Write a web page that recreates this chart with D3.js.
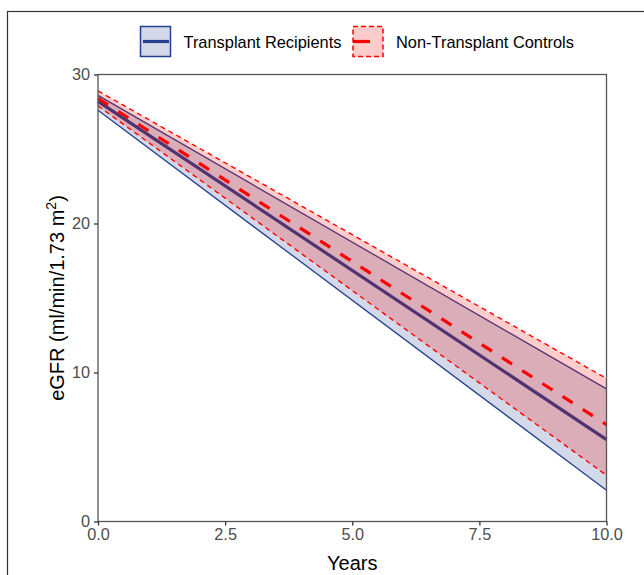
<!DOCTYPE html>
<meta charset="utf-8">

<script src="https://d3js.org/d3.v7.min.js"></script>

<style type="text/css">
  body { margin: 0; background: #fff; }
  text { font-family: "Liberation Sans", Arial, sans-serif; }
</style>

<body>
</body>

<script>

// straight-line fits, given by their values at the two ends
var years = [0, 10];

var trMean  = [28.2, 5.5],
    trLower = [27.6, 2.1],
    trUpper = [28.6, 8.9];

var ncMean  = [28.4, 6.5],
    ncLower = [27.9, 3.1],
    ncUpper = [28.9, 9.6];

var xTicks = [0, 2.5, 5, 7.5, 10];
var yTicks = [0, 10, 20, 30];

var groups = ["Transplant Recipients", "Non-Transplant Controls"];

var blue = "#24408e", red = "#ff0000";

var width = 644, height = 575;
var margin = {top: 74.5, right: 37.5, bottom: 53.5, left: 98};

var svg = d3.select("body").append("svg")
    .attr("width", width)
    .attr("height", height);

// outer frame of the figure
svg.append("rect")
    .attr("x", 7.5).attr("y", 11.5)
    .attr("width", width + 10).attr("height", height + 10)
    .attr("fill", "none")
    .attr("stroke", "#333")
    .attr("stroke-width", 1.2);

var x = d3.scaleLinear()
    .domain([0, 10])
    .range([margin.left, width - margin.right]);

var y = d3.scaleLinear()
    .domain([0, 30])
    .range([height - margin.bottom, margin.top]);

function rows(lo, hi, mid) {
  return years.map(function(d, i) { return {x: d, lo: lo[i], hi: hi[i], mid: mid[i]}; });
}

var tr = rows(trLower, trUpper, trMean),
    nc = rows(ncLower, ncUpper, ncMean);

var area = d3.area()
    .x(function(d) { return x(d.x); })
    .y0(function(d) { return y(d.lo); })
    .y1(function(d) { return y(d.hi); });

function line(key) {
  return d3.line()
    .x(function(d) { return x(d.x); })
    .y(function(d) { return y(d[key]); });
}

var plot = svg.append("g");

// transplant ribbon and lines
plot.append("path").datum(tr)
    .attr("d", area)
    .attr("fill", blue).attr("fill-opacity", 0.2);

["lo", "hi"].forEach(function(k) {
  plot.append("path").datum(tr)
      .attr("d", line(k))
      .attr("fill", "none").attr("stroke", blue).attr("stroke-width", 1.3);
});

plot.append("path").datum(tr)
    .attr("d", line("mid"))
    .attr("fill", "none").attr("stroke", blue).attr("stroke-width", 3.2);

// control ribbon and lines
plot.append("path").datum(nc)
    .attr("d", area)
    .attr("fill", red).attr("fill-opacity", 0.2);

["lo", "hi"].forEach(function(k) {
  plot.append("path").datum(nc)
      .attr("d", line(k))
      .attr("fill", "none").attr("stroke", red).attr("stroke-width", 1.4)
      .attr("stroke-dasharray", "5 4");
});

plot.append("path").datum(nc)
    .attr("d", line("mid"))
    .attr("fill", "none").attr("stroke", red).attr("stroke-width", 3.2)
    .attr("stroke-dasharray", "12 12");

// panel border
svg.append("rect")
    .attr("x", x(0)).attr("y", y(30))
    .attr("width", x(10) - x(0)).attr("height", y(0) - y(30))
    .attr("fill", "none")
    .attr("stroke", "#555")
    .attr("stroke-width", 1.3);

// axes
var xAxis = svg.append("g")
    .attr("transform", "translate(0," + y(0) + ")")
    .call(d3.axisBottom(x).tickValues(xTicks).tickFormat(d3.format(".1f")).tickSize(4).tickPadding(3));

var yAxis = svg.append("g")
    .attr("transform", "translate(" + x(0) + ",0)")
    .call(d3.axisLeft(y).tickValues(yTicks).tickSize(4).tickPadding(4));

[xAxis, yAxis].forEach(function(a) {
  a.select(".domain").remove();
  a.selectAll(".tick line").attr("stroke", "#333").attr("stroke-width", 1.3);
  a.selectAll(".tick text")
      .attr("fill", "#4d4d4d")
      .style("font-size", "16.3px")
      .style("font-family", "Liberation Sans, Arial, sans-serif");
});

svg.append("text")
    .attr("x", (x(0) + x(10)) / 2)
    .attr("y", 570)
    .attr("text-anchor", "middle")
    .style("font-size", "20px")
    .text("Years");

var yt = svg.append("text")
    .attr("transform", "translate(63.5," + (y(0) + y(30)) / 2 + ") rotate(-90)")
    .attr("text-anchor", "middle")
    .style("font-size", "20px");
yt.append("tspan").text("eGFR (ml/min/1.73 m");
yt.append("tspan").attr("dy", -8).style("font-size", "14px").text("2");
yt.append("tspan").attr("dy", 8).text(")");

// legend
var legend = svg.append("g");

var keys = [
  {x: 140.5, label: groups[0], stroke: blue, dash: null, lineX: [143, 169]},
  {x: 353, label: groups[1], stroke: red, dash: "5 3", lineX: [353, 370]}
];

keys.forEach(function(k) {
  legend.append("rect")
      .attr("x", k.x).attr("y", 26.5)
      .attr("width", 30).attr("height", 30)
      .attr("fill", k.stroke).attr("fill-opacity", 0.2)
      .attr("stroke", k.stroke).attr("stroke-width", 1.5)
      .attr("stroke-dasharray", k.dash);
  legend.append("line")
      .attr("x1", k.lineX[0]).attr("x2", k.lineX[1])
      .attr("y1", 41.5).attr("y2", 41.5)
      .attr("stroke", k.stroke).attr("stroke-width", 3.2);
  legend.append("text")
      .attr("x", k.x + 43).attr("y", 48.3)
      .style("font-size", "16.4px")
      .text(k.label);
});

</script>
